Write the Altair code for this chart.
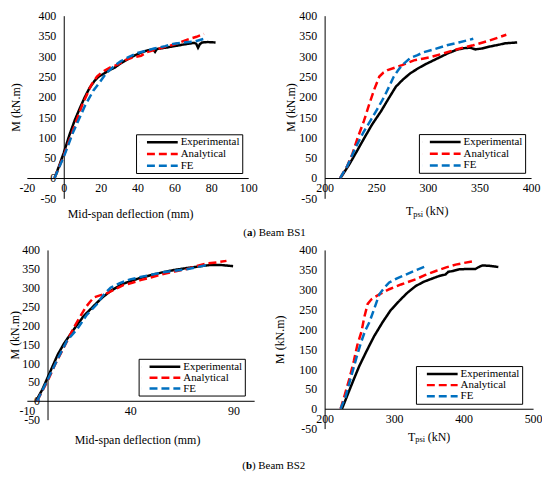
import altair as alt
import pandas as pd

FONT = "Liberation Serif, Times New Roman, DejaVu Serif, serif"
SERIES = ["Experimental", "Analytical", "FE"]
COLORS = ["#000000", "#ff0000", "#0070c0"]
DASHES = [[1, 0], [8, 4], [8, 4]]
Y_TICKS = [-50, 0, 50, 100, 150, 200, 250, 300, 350, 400]

# ---------------- Beam BS1 : mid-span deflection ----------------
bs1_d_exp_x = [-5, -2.5, 0, 3, 6, 9, 11.5, 14, 16.8, 19, 21.3, 24, 27.6, 31, 34.8, 38, 41.9, 45, 48.5, 49.5, 50.5, 55, 60, 65, 70.6, 71.8, 72.8, 73.8, 75, 78, 82.3]
bs1_d_exp_y = [0, 30, 62, 105, 143, 175, 200, 222, 240, 250, 256, 264, 272, 283, 293, 301, 309, 314, 317, 311, 318, 321, 325, 329, 333, 331, 321, 330, 334, 335, 334]
bs1_d_ana_x = [-5, 0, 5, 10, 15, 18, 21, 25, 29.4, 34, 38, 41.9, 45, 49, 54, 59.9, 63, 67, 72, 76]
bs1_d_ana_y = [0, 55, 118, 180, 230, 250, 262, 272, 280, 292, 298, 301, 310, 315, 322, 329, 334, 341, 348, 355]
bs1_d_fe_x = [-5, 0, 5, 11.5, 16, 19.5, 23, 27.6, 31, 34.8, 40, 45, 49, 55, 59.9, 65, 70.6, 76]
bs1_d_fe_y = [0, 52, 112, 178, 215, 236, 258, 277, 288, 297, 308, 314, 319, 325, 331, 334, 336, 343]

# ---------------- Beam BS1 : Tpsi ----------------
bs1_t_exp_x = [215.4, 224, 231, 238.5, 246, 254.5, 262, 269, 276, 283, 291, 299, 312, 320, 328, 335, 341, 346, 352, 360, 368, 375, 386.5]
bs1_t_exp_y = [0, 34, 65, 99, 132, 164, 196, 225, 243, 258, 271, 282, 298, 308, 316, 320, 321, 317, 319, 324, 328, 332, 334]
bs1_t_ana_x = [215, 222, 227, 232, 238, 243, 248, 253, 257, 261, 268, 275, 286.5, 295, 302.6, 314, 325, 335, 344, 360, 376]
bs1_t_ana_y = [0, 30, 60, 99, 140, 180, 218, 250, 260, 266, 272, 278, 290, 294, 298, 306, 315, 322, 327, 339, 353]
bs1_t_fe_x = [215, 222, 230, 237, 245, 251, 257.7, 263, 267, 271, 275, 283, 290, 296, 307, 318.5, 330, 344]
bs1_t_fe_y = [0, 30, 75, 110, 144, 170, 200, 228, 250, 265, 278, 296, 303, 310, 318, 327, 334, 343]

# ---------------- Beam BS2 : mid-span deflection ----------------
bs2_d_exp_x = [-5.5, -2.5, 0, 4.9, 8, 11.3, 14.5, 17.7, 21, 24.1, 27, 30.5, 33.5, 36.9, 40.5, 45, 50, 56, 61.5, 67.4, 73, 78.6, 84, 89.8]
bs2_d_exp_y = [0, 30, 61, 122, 152, 178, 203, 226, 244, 261, 276, 291, 301, 311, 318, 326, 333, 341, 347, 352, 356, 360, 360, 357]
bs2_d_ana_x = [-5, 0, 4, 8.5, 12.9, 16, 18.5, 20.5, 22.5, 25, 28, 32, 36.9, 41, 45, 50, 56, 61.5, 67.4, 72, 77, 82, 86.6]
bs2_d_ana_y = [0, 52, 100, 148, 196, 225, 248, 262, 274, 279, 283, 294, 307, 313, 320, 327, 336, 343, 349, 357, 364, 367, 371]
bs2_d_fe_x = [-5, 0, 5, 9.5, 14.5, 19, 24, 27, 30.5, 35, 40, 45, 50, 56, 61.5, 67.4, 72, 77]
bs2_d_fe_y = [0, 55, 112, 160, 191, 228, 257, 280, 300, 312, 322, 328, 334, 341, 345, 349, 354, 360]

# ---------------- Beam BS2 : Tpsi ----------------
bs2_t_exp_x = [225, 233, 241, 250, 260, 271, 283.8, 295, 307.6, 319, 331, 343, 355, 366, 374, 378, 385, 393, 405, 417, 422, 427, 437, 450]
bs2_t_exp_y = [0, 35, 70, 108, 144, 182, 219, 248, 272, 292, 309, 320, 328, 335, 338, 345, 347, 351, 352, 352, 357, 361, 360, 357]
bs2_t_ana_x = [223, 229, 236, 242, 247, 253, 257, 262, 267, 272, 282, 293, 310, 331, 345, 360, 375, 388.6, 400, 412]
bs2_t_ana_y = [0, 35, 78, 120, 160, 194, 230, 264, 275, 281, 291, 301, 313, 326, 337, 347, 356, 363, 367, 371]
bs2_t_fe_x = [223, 230, 238, 245.7, 252, 258, 264.7, 271, 276, 279, 286, 293, 305, 317, 330, 345.7]
bs2_t_fe_y = [0, 30, 80, 128, 165, 195, 219, 250, 275, 289, 305, 318, 329, 338, 348, 359]

# legend line sample: near-zero anchor segment at the entry's left, then a 31px visible stroke
SYM_PATH = "M-1.06,0h0.01M0.667,0H7.556"


def long_df(name, xs, ys):
    return pd.DataFrame({"series": name, "x": xs, "y": ys, "i": list(range(len(xs)))})


def text_mark(text, x, y, size=12, weight="normal"):
    return alt.Chart(alt.Data(values=[{"t": text}])).mark_text(
        text=text, font=FONT, fontSize=size, fontWeight=weight,
        align="left", baseline="middle", color="black",
    ).encode(x=alt.value(x), y=alt.value(y))


COMMON_AXIS = dict(
    labelFont=FONT, labelFontSize=12, labelColor="black",
    titleFont=FONT, titleFontSize=12, titleColor="black", titleFontWeight="normal",
    domainColor="black", domainWidth=1, ticks=False, grid=False,
    labelOverlap=False, labelFlush=False, labelExpr="'' + datum.value",
)


def make_panel(parts, W, H, xdom, xticks, yaxis_px, ytitle_x, xtitle, xtitle_x, xtitle_y,
               leg_x, leg_y, row_pad, extras):
    if xtitle:
        xaxis = alt.Axis(values=xticks, offset=-H / 9, labelPadding=5, title=xtitle,
                         titleX=xtitle_x, titleY=xtitle_y, titleAlign="center",
                         titleBaseline="middle", **COMMON_AXIS)
    else:
        xaxis = alt.Axis(values=xticks, offset=-H / 9, labelPadding=5, title=None, **COMMON_AXIS)
    yaxis = alt.Axis(values=Y_TICKS, offset=-yaxis_px, labelPadding=8, title="M (kN.m)",
                     titleAngle=270, titleBaseline="bottom", titleAlign="center",
                     titleX=ytitle_x, titleY=H / 2, **COMMON_AXIS)
    legend = alt.Legend(
        title=None, orient="none", legendX=leg_x, legendY=leg_y,
        strokeColor="black", fillColor="white", padding=2,
        symbolType=SYM_PATH, symbolSize=81, symbolStrokeWidth=2.5, symbolOffset=0,
        labelFont=FONT, labelFontSize=11, labelColor="black", labelOffset=31,
        rowPadding=row_pad, labelExpr="datum.label + '   '",
    )
    layers = []
    for name, xs, ys in parts:
        layers.append(
            alt.Chart(long_df(name, xs, ys)).mark_line(strokeWidth=2.5).encode(
                x=alt.X("x:Q", scale=alt.Scale(domain=xdom, nice=False, zero=False), axis=xaxis),
                y=alt.Y("y:Q", scale=alt.Scale(domain=[-50, 400], nice=False, zero=False), axis=yaxis),
                color=alt.Color("series:N", scale=alt.Scale(domain=SERIES, range=COLORS), legend=legend),
                strokeDash=alt.StrokeDash("series:N", scale=alt.Scale(domain=SERIES, range=DASHES), legend=legend),
                order=alt.Order("i:Q"),
            )
        )
    return alt.layer(*layers, *extras).properties(width=W, height=H)


p1 = make_panel(
    [("Experimental", bs1_d_exp_x, bs1_d_exp_y), ("Analytical", bs1_d_ana_x, bs1_d_ana_y), ("FE", bs1_d_fe_x, bs1_d_fe_y)],
    223, 184, [-20, 100], [-20, 0, 20, 40, 60, 80, 100], 223 * 20 / 120, -41.2,
    "Mid-span deflection (mm)", 104, 35.4, 110, 119.5, 0.8,
    [text_mark("(", 218, 219, 11), text_mark("a", 221.7, 219, 11, "bold"), text_mark(") Beam BS1", 227.2, 219, 11)],
)
p2 = make_panel(
    [("Experimental", bs1_t_exp_x, bs1_t_exp_y), ("Analytical", bs1_t_ana_x, bs1_t_ana_y), ("FE", bs1_t_fe_x, bs1_t_fe_y)],
    208, 184, [200, 400], [200, 250, 300, 350, 400], 0, -27,
    None, 0, 0, 95, 119.3, 0.8,
    [text_mark("T", 82, 196.5), text_mark("psi", 89.3, 199.5, 8.5), text_mark("(kN)", 102, 196.5)],
)
p3 = make_panel(
    [("Experimental", bs2_d_exp_x, bs2_d_exp_y), ("Analytical", bs2_d_ana_x, bs2_d_ana_y), ("FE", bs2_d_fe_x, bs2_d_fe_y)],
    229, 171, [-10, 100], [-10, 40, 90], 229 * 10 / 110, -26,
    "Mid-span deflection (mm)", 111, 39.5, 112.6, 109.7, 0,
    [text_mark("(", 217, 218, 11), text_mark("b", 220.7, 218, 11, "bold"), text_mark(") Beam BS2", 226.8, 218, 11)],
)
p4 = make_panel(
    [("Experimental", bs2_t_exp_x, bs2_t_exp_y), ("Analytical", bs2_t_ana_x, bs2_t_ana_y), ("FE", bs2_t_fe_x, bs2_t_fe_y)],
    210, 180, [200, 500], [200, 300, 400, 500], 0, -38,
    None, 0, 0, 92, 117, 0.2,
    [text_mark("T", 84, 188), text_mark("psi", 91.3, 191, 8.5), text_mark("(kN)", 104, 188)],
)

chart = alt.concat(p1, p2, p3, p4, columns=2, spacing={"row": 52, "column": 71}, bounds="flush")
chart = chart.resolve_scale(color="independent", strokeDash="independent", x="independent", y="independent")
chart = chart.resolve_legend(color="independent", strokeDash="independent")
chart = chart.configure_view(stroke=None).properties(padding=0)

chart.save("out.html", embed_options={"renderer": "svg", "actions": False})
